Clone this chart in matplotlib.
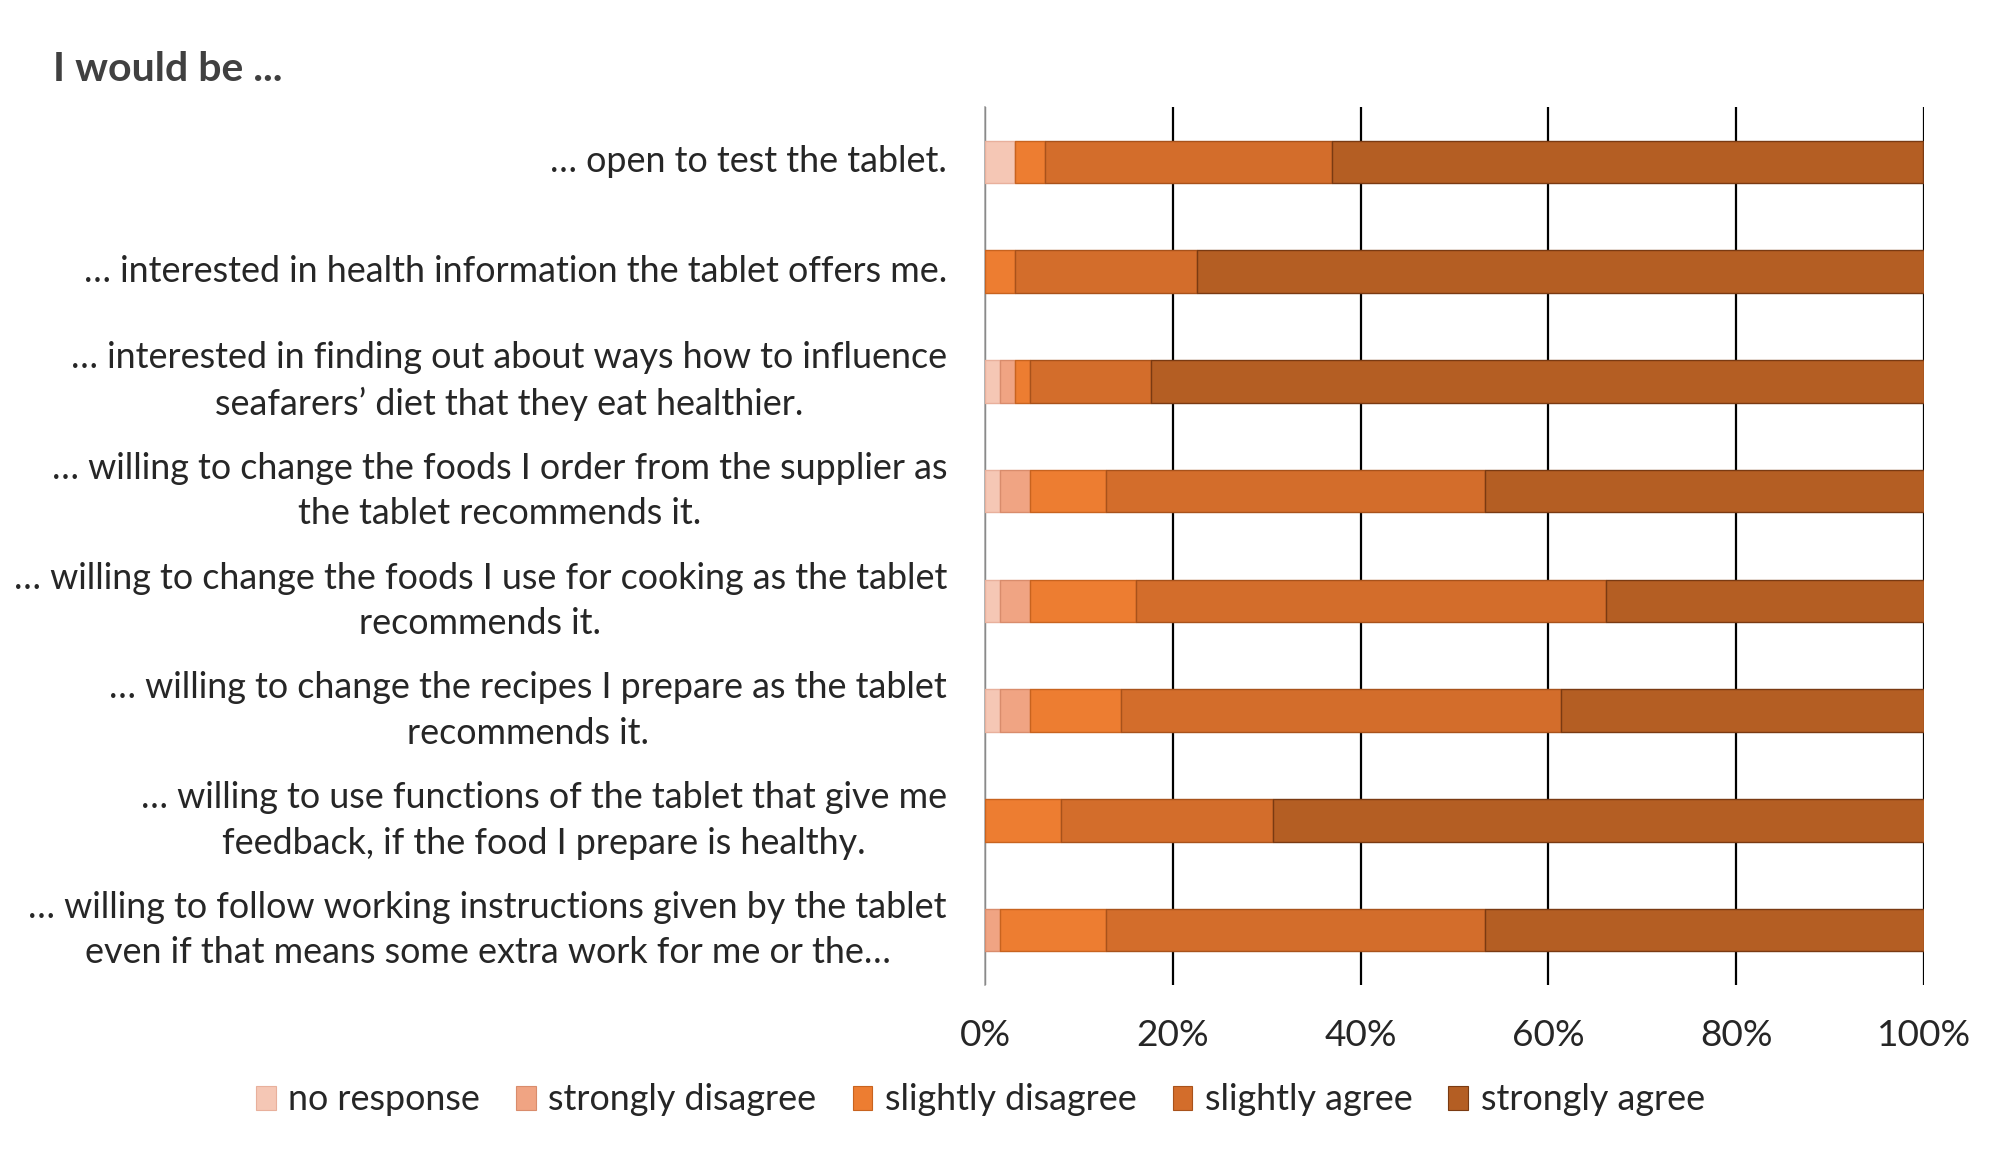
import matplotlib
matplotlib.use("Agg")
import matplotlib.pyplot as plt
import matplotlib.transforms as mtransforms
from matplotlib.patches import Patch

FAM = ["Lato", "DejaVu Sans"]
plt.rcParams["font.family"] = FAM

# ---------------- data ----------------
categories = [
    "… open to test the tablet.",
    "… interested in health information the tablet offers me.",
    "… interested in finding out about ways how to influence\nseafarers’ diet that they eat healthier.",
    "… willing to change the foods I order from the supplier as\nthe tablet recommends it.",
    "… willing to change the foods I use for cooking as the tablet\nrecommends it.",
    "… willing to change the recipes I prepare as the tablet\nrecommends it.",
    "… willing to use functions of the tablet that give me\nfeedback, if the food I prepare is healthy.",
    "… willing to follow working instructions given by the tablet\neven if that means some extra work for me or the…",
]
series_names = ["no response", "strongly disagree", "slightly disagree",
                "slightly agree", "strongly agree"]
no_response       = [3.2, 0.0, 1.6, 1.6, 1.6, 1.6, 0.0, 0.0]
strongly_disagree = [0.0, 0.0, 1.6, 3.2, 3.2, 3.2, 0.0, 1.6]
slightly_disagree = [3.2, 3.2, 1.6, 8.1, 11.3, 9.7, 8.1, 11.3]
slightly_agree    = [30.6, 19.4, 12.9, 40.3, 50.0, 46.8, 22.6, 40.3]
strongly_agree    = [62.9, 77.4, 82.3, 46.8, 33.9, 38.7, 69.4, 46.8]
xticks = [0, 20, 40, 60, 80, 100]
xtick_labels = ["0%", "20%", "40%", "60%", "80%", "100%"]
title = "I would be ..."

colors = ["#F5C7B5", "#F0A483", "#ED7D31", "#D36D2B", "#B45E23"]
edges = ["#E8B09C", "#D98C6C", "#C8631F", "#A8521B", "#7A3A12"]

# ---------------- figure ----------------
W, H = 2008, 1149
fig = plt.figure(figsize=(W / 100, H / 100), dpi=100)
ax = fig.add_axes([985 / W, 1 - 985 / H, (1924 - 985) / W, (985 - 107) / H])
renderer = fig.canvas.get_renderer()

def fit_size(text, target_px, **kw):
    t = fig.text(0, 0, text, fontsize=20, **kw)
    w = t.get_window_extent(renderer).width
    t.remove()
    return 20 * target_px / w

fs = fit_size("… willing to change the foods I use for cooking as the tablet", 937)
fs_title = fit_size(title, 230, weight="bold")

series = [no_response, strongly_disagree, slightly_disagree, slightly_agree, strongly_agree]
ypos = list(range(len(categories)))
left = [0.0] * len(categories)
for name, vals, c, e in zip(series_names, series, colors, edges):
    ax.barh(ypos, vals, left=left, height=0.385, color=c, edgecolor=e,
            linewidth=1.0, label=name, zorder=3)
    left = [l + v for l, v in zip(left, vals)]

ax.set_xlim(0, 100)
ax.set_ylim(len(categories) - 0.5, -0.5)
ax.set_xticks(xticks)
ax.set_xticklabels(xtick_labels, fontsize=fs * 1.03, color="#262626")
ax.set_yticks([])
ax.tick_params(axis="x", length=0, pad=fs * 0.55 + 10)
ax.grid(axis="x", color="black", linewidth=1.6, zorder=0)
ax.set_axisbelow(True)
for s in ["top", "right", "bottom"]:
    ax.spines[s].set_visible(False)
ax.spines["left"].set_color("#A6A6A6")
ax.spines["left"].set_linewidth(1.2)

# category labels
trans = mtransforms.blended_transform_factory(fig.transFigure, ax.transData)
line_px = 48
for y, cat in zip(ypos, categories):
    fig.text(947 / W, y, cat, transform=trans, ha="right", va="center",
             multialignment="center", fontsize=fs, color="#262626",
             linespacing=1.09 * line_px / (fs * 100 / 72))

fig.text(53 / W, 1 - 81 / H, title, ha="left", va="baseline",
         fontsize=fs_title, weight="bold", color="#404040")

handles = [Patch(facecolor=c, edgecolor=e, linewidth=0.8) for c, e in zip(colors, edges)]
fig.legend(handles, series_names, loc="center",
           bbox_to_anchor=((256 + 1705) / 2 / W, 1 - 1100 / H),
           ncol=5, frameon=False, fontsize=fs, handlelength=0.55,
           handleheight=0.65, handletextpad=0.35, columnspacing=1.0,
           labelcolor="#262626")

fig.savefig("out.png", dpi=100, facecolor="white")
